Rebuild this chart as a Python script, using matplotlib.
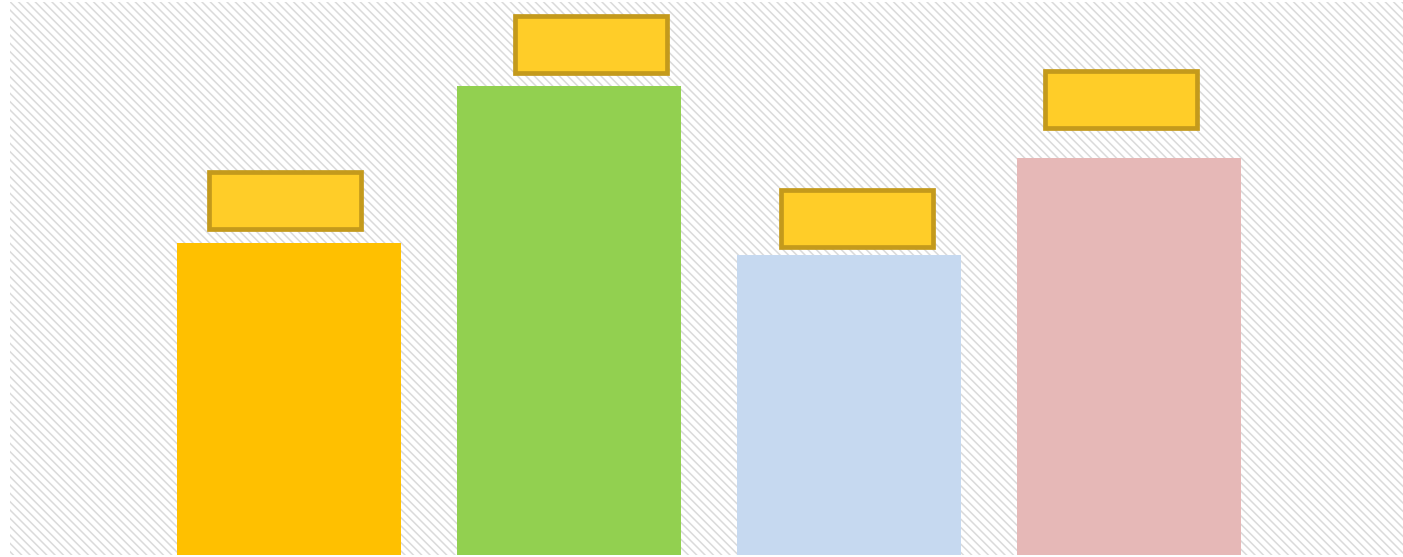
import matplotlib
matplotlib.use("Agg")
import matplotlib.pyplot as plt
from matplotlib.patches import Rectangle

# data
categories = ["A", "B", "C", "D"]
values = [3.95, 5.94, 3.80, 5.02]
bar_colors = ["#FFC000", "#92D050", "#C6D9F0", "#E6B8B7"]

# label box offsets relative to bar top / centre (pixels)
box_dx = [-4, 22, 8, -8]
box_dy = [14, 13, 8, 30]
box_w, box_h = 152, 57

plt.rcParams['hatch.linewidth'] = 1.1
plt.rcParams['hatch.color'] = '#DADADA'

W, H = 1403, 557
fig = plt.figure(figsize=(W / 100, H / 100), dpi=100)
ax_left, ax_bot, ax_w, ax_h = 10, 2, 1393, 553
ax = fig.add_axes([ax_left / W, ax_bot / H, ax_w / W, ax_h / H])

xlim = (-0.995, 3.98)
ylim = (0, 7.0)
ax.set_xlim(*xlim)
ax.set_ylim(*ylim)
ax.axis('off')

# hatched background
bg = Rectangle((0, 0), 1, 1, transform=ax.transAxes, facecolor='white',
               edgecolor='#DADADA', hatch='\\\\\\\\', linewidth=0, zorder=0)
ax.add_patch(bg)

x = list(range(len(categories)))
ax.bar(x, values, width=0.8, color=bar_colors, zorder=2)

px_x = ax_w / (xlim[1] - xlim[0])
px_y = ax_h / (ylim[1] - ylim[0])
for i, v in enumerate(values):
    cx = x[i] + box_dx[i] / px_x
    by = v + box_dy[i] / px_y
    w = box_w / px_x
    h = box_h / px_y
    ax.add_patch(Rectangle((cx - w / 2, by), w, h, facecolor='#FFCD28',
                           edgecolor='#C49A1C', linewidth=3.4, zorder=3,
                           clip_on=False))

fig.savefig("out.png", dpi=100)
